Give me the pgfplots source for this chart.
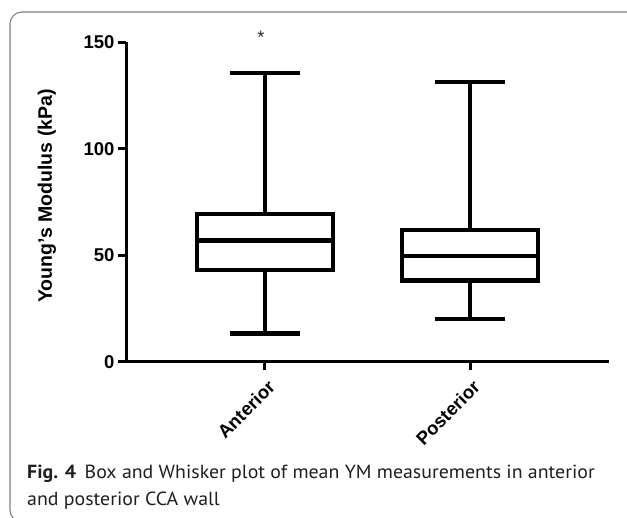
\documentclass[border=0pt]{standalone}
\usepackage{fontspec}
\setmainfont{Liberation Sans}
\newfontfamily\capfont[FakeStretch=1.046]{PT Sans}
\usepackage{pgfplots}
\pgfplotsset{compat=1.18}
\usepgfplotslibrary{statistics}

\begin{document}
\begin{tikzpicture}[x=1pt,y=1pt]
\useasboundingbox (0,0) rectangle (627,518);
\draw[black!50, line width=1.1pt, rounded corners=12pt] (10,-4) rectangle (645,506);
\begin{axis}[
  at={(126pt,156.3pt)}, anchor=south west,
  scale only axis, width=483pt, height=319.4pt,
  xmin=0.322, xmax=2.678, ymin=0, ymax=150,
  axis x line*=bottom, axis y line*=left,
  axis line style={line width=3pt, black},
  every tick/.style={line width=3pt, black},
  tick align=outside, major tick length=8pt,
  xtick={1,2}, xticklabels={Anterior,Posterior},
  ytick={0,50,100,150},
  /pgf/number format/assume math mode=true,
  tick label style={font=\bfseries\fontsize{18.5}{20}\selectfont},
  x tick label style={yshift=-12pt, xshift=9pt, rotate=45, anchor=east},
  ylabel={Young's Modulus (kPa)},
  ylabel style={font=\bfseries\fontsize{19.5}{21}\selectfont, at={(axis description cs:-0.1636,0.519)}, anchor=center},
  clip=false,
  boxplot/draw direction=y,
]
\addplot[black, line width=4.3pt, fill=white,
  boxplot prepared={draw position=1, lower whisker=13.3, lower quartile=43.1,
    median=56.9, upper quartile=69.4, upper whisker=135.7,
    box extend=0.663, whisker extend=0.337}] coordinates {};
\addplot[black, line width=4.3pt, fill=white,
  boxplot prepared={draw position=2, lower whisker=20.1, lower quartile=38.1,
    median=49.7, upper quartile=61.9, upper whisker=131.3,
    box extend=0.663, whisker extend=0.337}] coordinates {};
\node[anchor=base, inner sep=0pt, font=\fontsize{18}{18}\selectfont, text=black!85] at (axis cs:0.98,149.6) {*};
\end{axis}
\node[anchor=base west, inner sep=0pt, font=\capfont\fontsize{19}{26}\selectfont, text=black!88] at (27,39) {\textbf{Fig. 4}\hspace{0.45em}Box and Whisker plot of mean YM measurements in anterior};
\node[anchor=base west, inner sep=0pt, font=\capfont\fontsize{19}{26}\selectfont, text=black!88] at (27,12) {and posterior CCA wall};
\end{tikzpicture}
\end{document}
